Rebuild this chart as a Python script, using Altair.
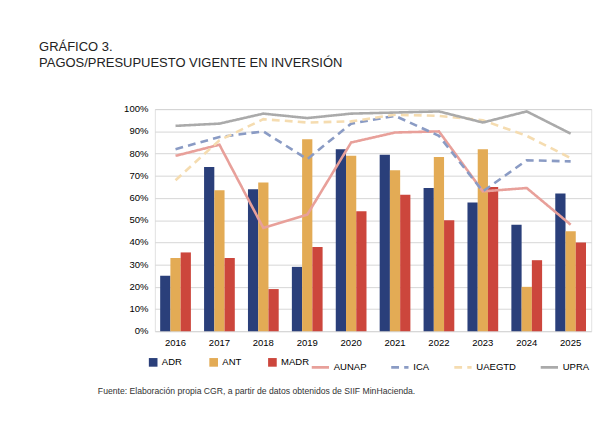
import altair as alt
import pandas as pd

years = ['2016', '2017', '2018', '2019', '2020', '2021', '2022', '2023', '2024', '2025']
adr = [25, 74, 64, 29, 82, 79.5, 64.5, 58, 48, 62]
ant = [33, 63.5, 67, 86.5, 79, 72.5, 78.5, 82, 20, 45]
madr = [35.5, 33, 19, 38, 54, 61.5, 50, 65, 32, 40]
aunap = [79, 84, 46.5, 52.5, 85, 89.5, 90, 63, 64.5, 48]
ica = [82, 87.5, 90, 77.5, 93.5, 97, 88, 63, 77, 76.5]
uaegtd = [68, 86, 95.5, 94, 94.5, 97.5, 97, 95, 88, 78]
upra = [92.5, 93.5, 98, 96, 98, 98.5, 99, 94, 99, 89]

bar_series = {'ADR': adr, 'ANT': ant, 'MADR': madr}
line_series = {'AUNAP': aunap, 'ICA': ica, 'UAEGTD': uaegtd, 'UPRA': upra}
bar_colors = ['#2a3f7a', '#e3ab55', '#cc463c']
line_colors = ['#e8a09a', '#8a9bc4', '#f5dcb0', '#aaaaaa']
line_dash = [[1, 0], [9, 6], [9, 6], [1, 0]]

bars_df = pd.DataFrame([{'year': y, 'serie': k, 'v': v / 100}
                        for k, vals in bar_series.items() for y, v in zip(years, vals)])
lines_df = pd.DataFrame([{'year': y, 'serie': k, 'v': v / 100}
                         for k, vals in line_series.items() for y, v in zip(years, vals)])

FONT = 'Liberation Sans Narrow, Liberation Sans'
H = 257

x = alt.X('year:N', title=None, axis=alt.Axis(labelAngle=0, ticks=False, domain=False,
                                               labelFontSize=11, labelPadding=8),
          scale=alt.Scale(paddingInner=0.3, paddingOuter=0.12))
y = alt.Y('v:Q', title=None, scale=alt.Scale(domain=[0, 1]),
          axis=alt.Axis(format='.0%', values=[i / 10 for i in range(11)], labelOverlap=False,
                        ticks=False, domain=False, labelFontSize=11, labelPadding=8,
                        gridColor='#d0d0d0'))

bars = alt.Chart(bars_df).mark_bar().encode(
    x=x, y=y, xOffset=alt.XOffset('serie:N', sort=list(bar_series)),
    color=alt.Color('serie:N', sort=list(bar_series),
                    scale=alt.Scale(domain=list(bar_series), range=bar_colors),
                    legend=alt.Legend(title=None, orient='none', legendX=-8, legendY=H + 30,
                                      direction='horizontal', symbolType='square',
                                      columnPadding=30, labelFontSize=11))
)

lines = alt.Chart(lines_df).mark_line(strokeWidth=3).encode(
    x=x, y=y,
    stroke=alt.Stroke('serie:N', sort=list(line_series),
                      scale=alt.Scale(domain=list(line_series), range=line_colors),
                      legend=alt.Legend(title=None, orient='none', legendX=180, legendY=H + 30,
                                        direction='horizontal', symbolType='stroke',
                                        symbolStrokeWidth=3, symbolSize=400,
                                        columnPadding=22, labelFontSize=11)),
    strokeDash=alt.StrokeDash('serie:N', sort=list(line_series),
                              scale=alt.Scale(domain=list(line_series), range=line_dash),
                              legend=None)
)

foot = alt.Chart(pd.DataFrame({'t': ['Fuente: Elaboración propia CGR, a partir de datos obtenidos de SIIF MinHacienda.']})).mark_text(
    align='left', fontSize=10, font=FONT, color='#333'
).encode(text='t:N', x=alt.value(-66), y=alt.value(H + 70))

chart = (bars + lines + foot).resolve_scale(color='independent').properties(
    width=505, height=H,
    padding={'left': 36, 'top': 5, 'right': 2, 'bottom': 5},
    title=alt.TitleParams('GRÁFICO 3.', subtitle='PAGOS/PRESUPUESTO VIGENTE EN INVERSIÓN',
                          anchor='start', frame='bounds', offset=40, dx=-68,
                          font=FONT, fontSize=15, fontWeight='normal', color='#222',
                          subtitleFont=FONT, subtitleFontSize=15, subtitleColor='#222')
).configure_view(strokeWidth=0).configure(font=FONT)

chart.save('out.html', embed_options={'renderer': 'svg', 'actions': False})
